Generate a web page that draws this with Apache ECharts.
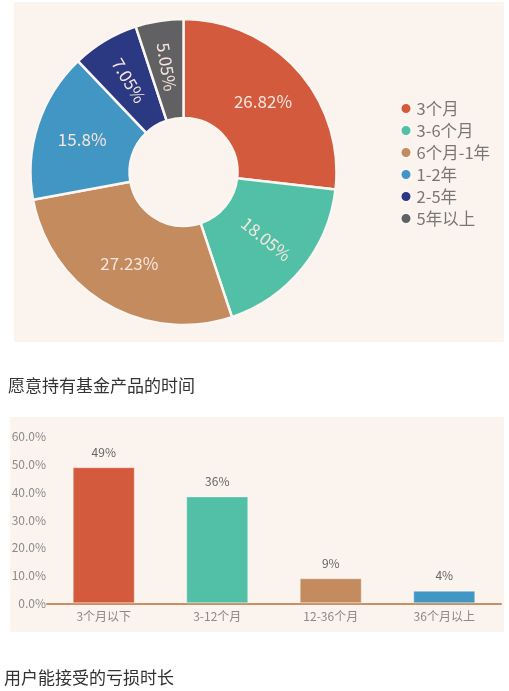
<!DOCTYPE html>
<html>
<head>
<meta charset="utf-8">
<script src="https://cdn.jsdelivr.net/npm/echarts@6/dist/echarts.min.js"></script>
<style>
html,body{margin:0;padding:0;background:#ffffff;}
#c{width:509px;height:691px;}
</style>
</head>
<body>
<div id="c"></div>
<script>
// Pie chart: holding period
const pieNames = ['3个月', '3-6个月', '6个月-1年', '1-2年', '2-5年', '5年以上'];
const pieValues = [26.82, 18.05, 27.23, 15.8, 7.05, 5.05];
const pieColors = ['#d35a3c', '#51c0a6', '#c48b5e', '#4296c4', '#2b3882', '#616164'];
const pieLabelRotate = [0, 'radial', 0, 0, 'radial', 'radial'];
const pieCaption = '愿意持有基金产品的时间';

// Bar chart: acceptable loss duration
const barCategories = ['3个月以下', '3-12个月', '12-36个月', '36个月以上'];
const barValues = [49, 38.5, 9, 4.5];
const barLabels = ['49%', '36%', '9%', '4%'];
const barColors = ['#d35a3c', '#51c0a6', '#c48b5e', '#4296c4'];
const yTicks = [0, 10, 20, 30, 40, 50, 60];
const barCaption = '用户能接受的亏损时长';

const FONT = '"Noto Sans CJK SC", "Noto Sans", sans-serif';
const BG = '#faf3ee';

const chart = echarts.init(document.getElementById('c'), null, {renderer: 'canvas'});

const option = {
  animation: false,
  textStyle: {fontFamily: FONT},
  graphic: [
    {type: 'rect', z: -10, silent: true, shape: {x: 14, y: 2, width: 490, height: 340}, style: {fill: BG}},
    {type: 'rect', z: -10, silent: true, shape: {x: 10, y: 417, width: 494, height: 215}, style: {fill: BG}},
    {type: 'text', left: 8, top: 377, style: {text: pieCaption, fill: '#333333', font: '17px ' + FONT}},
    {type: 'text', left: 4, top: 669, style: {text: barCaption, fill: '#333333', font: '17px ' + FONT}}
  ],
  legend: {
    orient: 'vertical',
    left: 394.5,
    top: 95,
    icon: 'circle',
    itemWidth: 11,
    itemHeight: 11,
    itemGap: 5,
    data: pieNames,
    textStyle: {fontSize: 16.5, lineHeight: 17, color: '#777777', fontFamily: FONT}
  },
  grid: {left: 47, right: 8, top: 436.7, height: 166.6, containLabel: false},
  xAxis: {
    type: 'category',
    data: barCategories,
    axisLine: {lineStyle: {color: '#c99063', width: 2}},
    axisTick: {show: false},
    axisLabel: {color: '#8a8a8a', fontSize: 12, margin: 7, fontFamily: FONT}
  },
  yAxis: {
    type: 'value',
    min: yTicks[0],
    max: yTicks[yTicks.length - 1],
    interval: 10,
    axisLine: {show: false},
    axisTick: {show: false},
    splitLine: {show: false},
    axisLabel: {color: '#8a8a8a', fontSize: 12, margin: 1, fontFamily: FONT,
      formatter: v => v.toFixed(1) + '%'}
  },
  series: [
    {
      type: 'pie',
      center: [183.5, 172],
      radius: [54, 153],
      startAngle: 90,
      clockwise: true,
      avoidLabelOverlap: false,
      itemStyle: {borderColor: '#fbf6f2', borderWidth: 2.5},
      label: {
        show: true,
        position: 'inside',
        color: '#f6e6de',
        fontSize: 17,
        fontFamily: FONT,
        formatter: p => pieValues[p.dataIndex] + '%'
      },
      labelLine: {show: false},
      emphasis: {disabled: true},
      data: pieNames.map((n, i) => ({
        name: n,
        value: pieValues[i],
        itemStyle: {color: pieColors[i]},
        label: {rotate: pieLabelRotate[i]}
      }))
    },
    {
      type: 'bar',
      barWidth: 62,
      data: barValues.map((v, i) => ({
        value: v,
        itemStyle: {color: barColors[i], borderColor: 'rgba(255,255,255,0.35)', borderWidth: 1}
      })),
      label: {
        show: true,
        position: 'top',
        distance: 9,
        color: '#666666',
        fontSize: 12,
        fontFamily: FONT,
        formatter: p => barLabels[p.dataIndex]
      },
      emphasis: {disabled: true}
    }
  ]
};

chart.setOption(option);
</script>
</body>
</html>
